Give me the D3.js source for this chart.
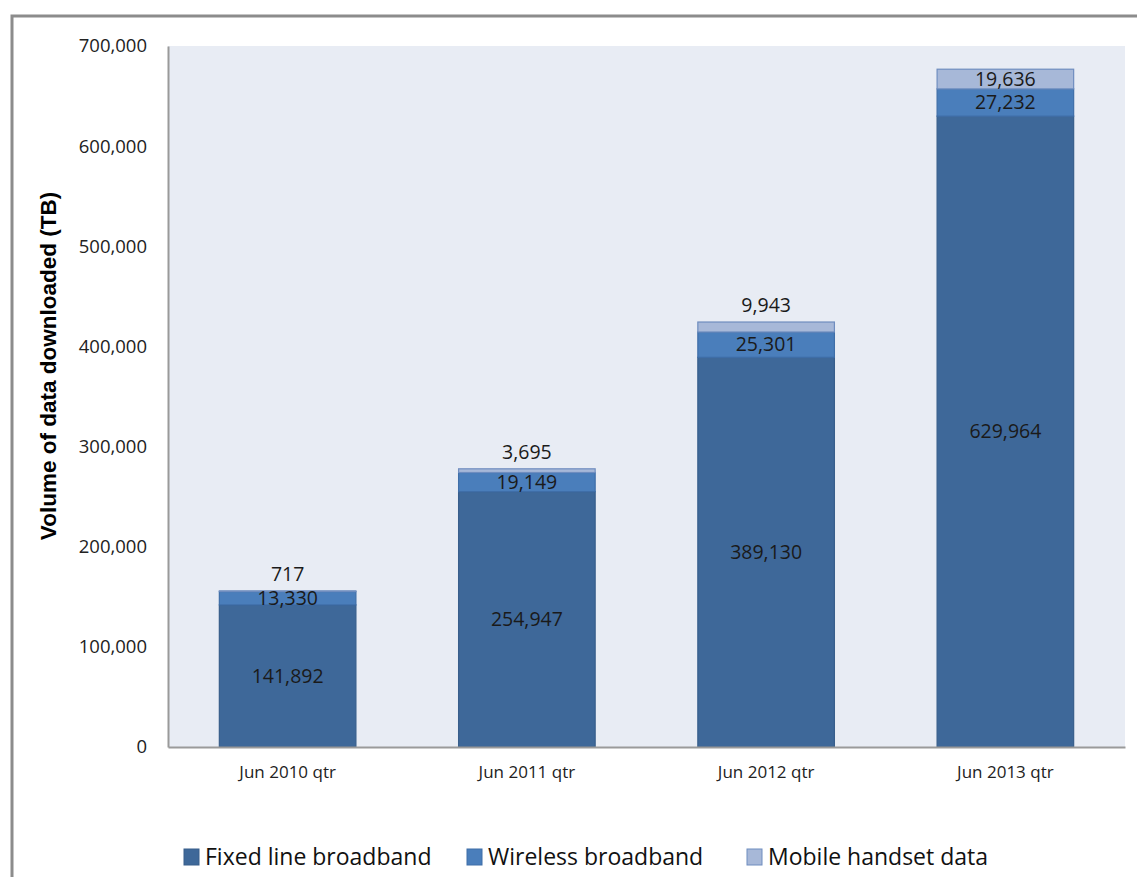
<!DOCTYPE html>
<html><head><meta charset="utf-8">
<script src="https://cdn.jsdelivr.net/npm/d3@7"></script>
<style>body{margin:0;background:#fff;} svg{display:block;}</style>
</head><body>
<script>
const categories = ["Jun 2010 qtr","Jun 2011 qtr","Jun 2012 qtr","Jun 2013 qtr"];
const seriesNames = ["Fixed line broadband","Wireless broadband","Mobile handset data"];
const fixedLine = [141892, 254947, 389130, 629964];
const wireless = [13330, 19149, 25301, 27232];
const mobile = [717, 3695, 9943, 19636];
const yTicks = [0,100000,200000,300000,400000,500000,600000,700000];
const colors = ["#3E6899","#4A7EBB","#A7B8D8"];
const strokes = ["#385E8B","#3F6EA8","#6F8DBF"];

const W=1137,H=877;
const svg=d3.select("body").append("svg").attr("width",W).attr("height",H);
const font="'Open Sans','Noto Sans',sans-serif";
// outer border
svg.append("path").attr("d","M12,877 V16 H1137").attr("fill","none").attr("stroke","#8c8c8c").attr("stroke-width",3);

const m={l:168,r:1125,t:46,b:747};
const x=d3.scaleBand().domain(categories).range([m.l,m.r]).paddingInner(0.425).paddingOuter(0.2125);
const y=d3.scaleLinear().domain([0,700000]).range([m.b,m.t]);

svg.append("rect").attr("x",m.l).attr("y",m.t).attr("width",m.r-m.l).attr("height",m.b-m.t).attr("fill","#E8ECF4");

const data=categories.map((c,i)=>({cat:c,v:[fixedLine[i],wireless[i],mobile[i]]}));
const stack=d3.stack().keys([0,1,2]).value((d,k)=>d.v[k]);
const series=stack(data);
const fmt=d3.format(",");
series.forEach((s,k)=>{
  svg.append("g").selectAll("rect").data(s).join("rect")
    .attr("x",d=>x(d.data.cat)+0.5).attr("width",x.bandwidth()-1)
    .attr("y",d=>y(d[1])).attr("height",d=>y(d[0])-y(d[1]))
    .attr("fill",colors[k]).attr("stroke",strokes[k]).attr("stroke-width",1.2);
});
series.forEach((s,k)=>{
  svg.append("g").selectAll("text").data(s).join("text")
    .attr("x",d=>x(d.data.cat)+x.bandwidth()/2)
    .attr("y",d=>{const h=y(d[0])-y(d[1]); if(k===2 && h<15) return y(d[1])-17; return (y(d[0])+y(d[1]))/2;})
    .attr("dy","0.35em").attr("text-anchor","middle")
    .attr("font-family",font).attr("font-size",19.5).attr("fill","#1a1a1a")
    .text(d=>fmt(d.data.v[k]));
});

// axes
const ya=svg.append("g").attr("transform",`translate(${m.l},0)`).call(d3.axisLeft(y).tickValues(yTicks).tickFormat(fmt).tickSize(0).tickPadding(21));
ya.select(".domain").attr("stroke","#9a9a9a").attr("stroke-width",2);
ya.selectAll("text").attr("font-family",font).attr("font-size",18.5).attr("fill","#222");
const xa=svg.append("g").attr("transform",`translate(0,${m.b})`).call(d3.axisBottom(x).tickSize(0).tickPadding(19));
xa.select(".domain").attr("stroke","#9a9a9a").attr("stroke-width",2);
xa.selectAll("text").attr("font-family",font).attr("font-size",17).attr("fill","#222");

svg.append("text").attr("transform","translate(56,366) rotate(-90)").attr("text-anchor","middle")
  .attr("font-family","'Liberation Sans',Arial,sans-serif").attr("font-weight","bold").attr("font-size",22.5)
  .text("Volume of data downloaded (TB)");

// legend
const legX=[184,467,747];
const lg=svg.append("g").selectAll("g").data(seriesNames).join("g").attr("transform",(d,i)=>`translate(${legX[i]},857)`);
lg.append("rect").attr("x",0).attr("y",-8).attr("width",15).attr("height",16).attr("fill",(d,i)=>colors[i]).attr("stroke",(d,i)=>strokes[i]);
lg.append("text").attr("x",21).attr("dy","0.35em").attr("font-family","'Liberation Sans Narrow','Open Sans',sans-serif").attr("font-size",23).attr("fill","#111").text(d=>d);
</script>
</body></html>
